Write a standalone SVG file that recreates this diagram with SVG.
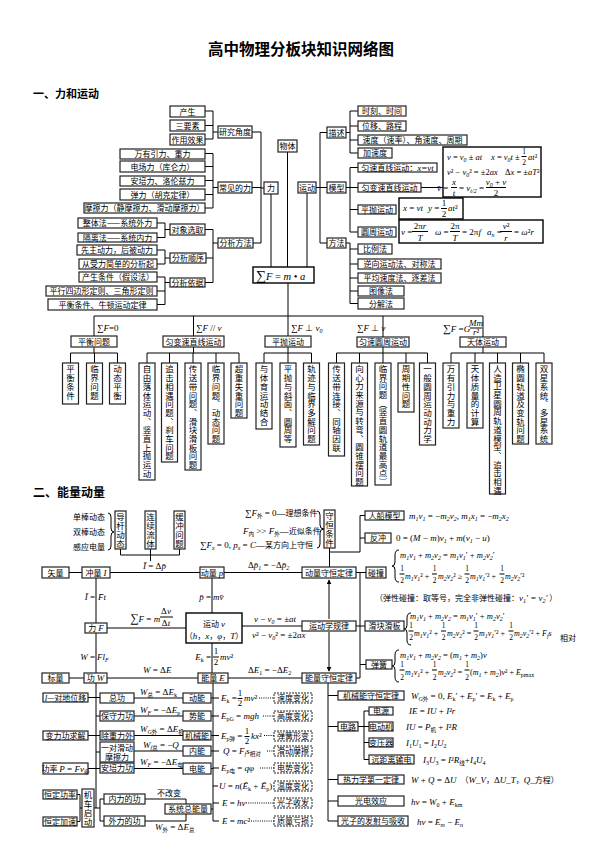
<svg xmlns="http://www.w3.org/2000/svg" width="599" height="860" viewBox="0 0 599 860">
<style>
.bg{fill:#fff}
.b{fill:#fff;stroke:#222;stroke-width:1.2}
.bd{fill:#fff;stroke:#222;stroke-width:1;stroke-dasharray:2 1}
.fb{fill:#fff;stroke:#000;stroke-width:1.4}
.ln{fill:none;stroke:#000;stroke-width:1}
.dt{fill:none;stroke:#000;stroke-width:1;stroke-dasharray:1 1.2}
.t{font-family:"Noto Sans CJK SC",sans-serif;font-size:8px;fill:#000;text-anchor:middle}
.c{font-family:"Noto Sans CJK SC",sans-serif;font-size:8px;font-style:normal;fill:#000}
.v{font-family:"Noto Sans CJK SC",sans-serif;font-size:8.5px;writing-mode:vertical-rl;letter-spacing:0.2px;fill:#000}
.m{font-family:"Liberation Serif",serif;font-size:9px;font-style:italic;fill:#000}
.e{font-size:8px}
.e1{font-size:8.5px}
.q{font-size:7.5px}
.r{font-style:normal}
.s{font-size:6px;baseline-shift:-2px}
.z{font-family:"Noto Sans CJK SC",sans-serif;font-style:normal;font-size:5.5px;baseline-shift:-2px}
.fn{text-anchor:middle}
.h{font-family:"Noto Sans CJK SC",sans-serif;font-weight:bold;fill:#000}
</style>
<defs>
<marker id="ah" viewBox="0 0 8 8" refX="7" refY="4" markerWidth="5" markerHeight="5" orient="auto-start-reverse"><path d="M0,0L8,4L0,8z" fill="#000"/></marker>
</defs>
<rect class="bg" x="0" y="0" width="599" height="860"/>
<text class="h" x="301" y="55" font-size="15.5" text-anchor="middle">高中物理分板块知识网络图</text>
<text class="h" x="33" y="98" font-size="11">一、力和运动</text>
<text class="h" x="33" y="497" font-size="12">二、能量动量</text>

<g id="connectors">
<path class="ln" d="M205,111H213M205,125.5H213M205,139H213M213,111V139M213,132H218M252,132H261M252,187.5H261M253,243H261M261,132V243M261,188H264M205,153.5H213M205,166.5H213M205,180.5H213M205,194.5H213M205,208H213M213,153.5V208M213,187.5H218M205,229.5H213M206,258H213M205,282.5H213M213,229.5V282.5M213,243H218M157,223H165M157,237.5H165M165,223V237.5M165,229.5H170M157,250H165M157,264H165M165,250V264M165,258H170M157,277H165M157,291H165M157,304.5H165M165,277V304.5M165,282.5H170M271,194V267M287.5,152V267M307,193V267M316,187.5H320M320,132.5V243M320,132.5H327M320,187.5H327M320,243H327M346,132.5H350M350,111V153M350,111H358M350,126H358M350,140H358M350,153H358M346,187.5H350M350,167.5V232M350,167.5H358M350,187.5H358M350,209.5H358M350,232H358M346,243H350M350,243V303.5M350,249H358M350,264H358M350,278H358M350,291H358M350,303.5H358M421,187.5H443"/>
<path class="ln" d="M288,283V316M94,316H483M94,316V336M193.5,316V336M288,316V336M383,316V337M483,316V337M94,347V353M70.5,353H117.5M70.5,353V363M94.5,353V363M117.5,353V363M193.5,347V353M147,353H239M147,353V363M169.5,353V363M193,353V363M216,353V363M239,353V363M288,347V353M264,353H311.5M264,353V363M288,353V363M311.5,353V363M383,347V353M336.5,353H427.5M336.5,353V363M359.5,353V363M383,353V363M406,353V363M427.5,353V363M483,347V353M451,353H544M451,353V363M475,353V363M497.5,353V363M520.5,353V363M544,353V363"/>
<path class="ln" d="M120.5,549V555M150.5,549V555M179.5,549V555M120.5,555H179.5M150.5,555V561M69,572.5H82M110,572.5H200M224,572.5H302M96,578V623M212,578V613M107,628H186M242,626H302M96,633V673M212,643V673M69,678H84M107,678H198M228,678H302M329.5,548V567M329.5,552H360M360,515.5V552M360,515.5H365M360,538H365M356,572.5H366M360,572.5V678M356,678H360M360,664.5H366M356,626H365"/>
<path class="ln" d="M329,580V619M329,632V671" marker-start="url(#ah)" marker-end="url(#ah)"/>
<path class="ln" d="M108,513Q111,513 111,517L111,528Q111,532 114,532Q111,532 111,536L111,546Q111,550 108,550M317,511Q320,511 320,515L320,525Q320,529 324,529Q320,529 320,533L320,544Q320,548 317,548M399,550Q395,550 395,555L395,562Q395,566 392,566Q395,566 395,570L395,577Q395,582 399,582M411,613Q407,613 407,618L407,625Q407,629 404,629Q407,629 407,633L407,640Q407,645 411,645M399,650Q395,650 395,655L395,662Q395,666 392,666Q395,666 395,670L395,677Q395,682 399,682"/>
<path class="ln" d="M96,683V808M88,697.5H100M96,716H100M88,735.5H100M96,752H100M88,768.5H100M134,698H183M134,716H183M134,735.5H183M134,751H183M134,768.5H183M211,698H213M211,716H213M211,735.5H213M211,751H213M211,768.5H213M211,809H213M213,683V821M213,698H219M213,716H219M213,735.5H219M213,751H219M213,768H219M213,786H218M213,803H219M213,821H219M77,794.5H80M77,821.5H80M80,794.5V821.5M80,808H82M94,808H100M100,799V821M100,799H104M100,821H104M145,799H186V804M145,821H186V814M328,683V821M328,695.5H338M328,726.5H338M328,779.5H338M328,801H338M328,821H338M358,726.5H364M364,711V759.5M364,711H369M364,726.5H369M364,742.5H369M364,759.5H369"/>
<path class="dt" d="M259,698H274M263,716H274M264,735.5H274M267,751H274M260,768H274M246,803H274M251,821H274"/>
</g>

<g id="n-chansheng"><rect class="b" x="170" y="106" width="35" height="11"/><text class="t" x="187.5" y="114.5">产生</text></g>
<g id="n-sanyaosu"><rect class="b" x="170" y="120" width="35" height="11"/><text class="t" x="187.5" y="128.5">三要素</text></g>
<g id="n-zuoyong"><rect class="b" x="170" y="134" width="35" height="11"/><text class="t" x="187.5" y="142.5">作用效果</text></g>
<g id="n-yanjiu"><rect class="b" x="218" y="126" width="34" height="12"/><text class="t" x="235" y="135">研究角度</text></g>
<g id="n-wanyou"><rect class="b" x="120" y="149" width="85" height="10"/><text class="t" x="162.5" y="157">万有引力、重力</text></g>
<g id="n-dianchang"><rect class="b" x="120" y="161" width="85" height="11"/><text class="t" x="162.5" y="169.5">电场力（库仑力）</text></g>
<g id="n-anpei"><rect class="b" x="120" y="176" width="85" height="10"/><text class="t" x="162.5" y="184">安培力、洛伦兹力</text></g>
<g id="n-tanli"><rect class="b" x="120" y="189" width="85" height="11"/><text class="t" x="162.5" y="197.5">弹力（胡克定律）</text></g>
<g id="n-moca"><rect class="b" x="84" y="203" width="121" height="10"/><text class="t" x="144.5" y="211">摩擦力（静摩擦力、滑动摩擦力）</text></g>
<g id="n-changjian"><rect class="b" x="218" y="182" width="34" height="11"/><text class="t" x="235" y="190.5">常见的力</text></g>
<g id="n-li"><rect class="b" x="264" y="182" width="14" height="12"/><text class="t" x="271" y="191">力</text></g>
<g id="n-wuti"><rect class="b" x="278" y="140" width="19" height="12"/><text class="t" x="287.5" y="149">物体</text></g>
<g id="n-yundong"><rect class="b" x="298" y="182" width="18" height="11"/><text class="t" x="307" y="190.5">运动</text></g>
<g id="n-miaoshu"><rect class="b" x="327" y="127" width="19" height="11"/><text class="t" x="336.5" y="135.5">描述</text></g>
<g id="n-moxing"><rect class="b" x="327" y="182" width="19" height="11"/><text class="t" x="336.5" y="190.5">模型</text></g>
<g id="n-fangfa"><rect class="b" x="327" y="238" width="19" height="10"/><text class="t" x="336.5" y="246">方法</text></g>
<g id="n-shike"><rect class="b" x="358" y="106" width="48" height="10"/><text class="t" x="382" y="114">时刻、时间</text></g>
<g id="n-weiyi"><rect class="b" x="358" y="121" width="48" height="10"/><text class="t" x="382" y="129">位移、路程</text></g>
<g id="n-sudu"><rect class="b" x="358" y="135" width="109" height="10"/><text class="t" x="412.5" y="143">速度（速率）、角速度、周期</text></g>
<g id="n-jiasudu"><rect class="b" x="358" y="148" width="34" height="10"/><text class="t" x="375" y="156">加速度</text></g>
<g id="n-yunsu"><rect class="b" x="358" y="163" width="79" height="9"/><text class="t" x="397.5" y="170.5">匀速直线运动：<tspan class="m" font-size="8.5">x=vt</tspan></text></g>
<g id="n-yunbian"><rect class="b" x="358" y="183" width="63" height="9"/><text class="t" x="389.5" y="190.5">匀变速直线运动</text></g>
<g id="n-pingpao1"><rect class="b" x="358" y="205" width="38" height="9"/><text class="t" x="377" y="212.5">平抛运动</text></g>
<g id="n-yuanzhou1"><rect class="b" x="358" y="227" width="38" height="10"/><text class="t" x="377" y="235">圆周运动</text></g>
<g id="n-bili"><rect class="b" x="358" y="244" width="34" height="10"/><text class="t" x="375" y="252">比例法</text></g>
<g id="n-nixiang"><rect class="b" x="358" y="259" width="83" height="10"/><text class="t" x="399.5" y="267">逆向运动法、对称法</text></g>
<g id="n-pingjun"><rect class="b" x="358" y="273" width="83" height="10"/><text class="t" x="399.5" y="281">平均速度法、逐差法</text></g>
<g id="n-tuxiang"><rect class="b" x="358" y="286" width="46" height="10"/><text class="t" x="381" y="294">图像法</text></g>
<g id="n-fenjie"><rect class="b" x="358" y="298" width="46" height="11"/><text class="t" x="381" y="306.5">分解法</text></g>
<g id="n-duixiang"><rect class="b" x="170" y="224" width="35" height="11"/><text class="t" x="187.5" y="232.5">对象选取</text></g>
<g id="n-zhengti"><rect class="b" x="78" y="218" width="79" height="10"/><text class="t" x="117.5" y="226">整体法——系统外力</text></g>
<g id="n-geli"><rect class="b" x="78" y="233" width="79" height="9"/><text class="t" x="117.5" y="240.5">隔离法——系统内力</text></g>
<g id="n-fenxi"><rect class="b" x="218" y="238" width="35" height="10"/><text class="t" x="235.5" y="246">分析方法</text></g>
<g id="n-shunxu"><rect class="b" x="170" y="253" width="36" height="10"/><text class="t" x="188" y="261">分析顺序</text></g>
<g id="n-xianzhu"><rect class="b" x="77" y="245" width="80" height="10"/><text class="t" x="117" y="253">先主动力，后被动力</text></g>
<g id="n-congshou"><rect class="b" x="79" y="259" width="78" height="10"/><text class="t" x="118" y="267">从受力简单的分析起</text></g>
<g id="n-yiju"><rect class="b" x="170" y="278" width="35" height="9"/><text class="t" x="187.5" y="285.5">分析依据</text></g>
<g id="n-chanshengtj"><rect class="b" x="79" y="272" width="78" height="10"/><text class="t" x="118" y="280">产生条件（假设法）</text></g>
<g id="n-pingxing"><rect class="b" x="46" y="286" width="111" height="10"/><text class="t" x="101.5" y="294">平行四边形定则、三角形定则</text></g>
<g id="n-pingheng-tj"><rect class="b" x="48" y="299" width="109" height="11"/><text class="t" x="102.5" y="307.5">平衡条件、牛顿运动定律</text></g>

<g id="n-f1"><rect class="fb" x="443" y="147" width="98" height="50"/>
<text class="m e1" x="447" y="160">v<tspan class="r"> = </tspan>v<tspan class="s">0</tspan><tspan class="r"> ± </tspan>at</text>
<text class="m e1" x="491" y="160">x<tspan class="r"> = </tspan>v<tspan class="s">0</tspan>t<tspan class="r"> ± </tspan></text>
<text class="m r fn q" x="524" y="154">1</text><path class="ln" d="M521.5,156.5H526.5"/><text class="m r fn q" x="524" y="165">2</text>
<text class="m e1" x="528" y="160">at<tspan class="r">²</tspan></text>
<text class="m e1" x="447" y="175">v<tspan class="r">² − </tspan>v<tspan class="s">0</tspan><tspan class="r">² = ±2</tspan>ax</text>
<text class="m e1" x="505" y="175"><tspan class="r">Δ</tspan>x<tspan class="r"> = ±</tspan>aT<tspan class="r">²</tspan></text>
<text class="m" x="437" y="191">v̄<tspan class="r"> =</tspan></text>
<text class="m fn" x="454" y="185">x</text><path class="ln" d="M451,187.5H457"/><text class="m fn" x="454" y="196">t</text>
<text class="m" x="459" y="191"><tspan class="r">= </tspan>v<tspan class="s">t/2</tspan><tspan class="r"> =</tspan></text>
<text class="m fn" x="496" y="185">v<tspan class="s">0</tspan><tspan class="r"> + </tspan>v</text><path class="ln" d="M486,187.5H506"/><text class="m r fn" x="496" y="196">2</text>
</g>
<g id="n-f2"><rect class="fb" x="399" y="198" width="64" height="21"/>
<text class="m" x="403" y="211">x<tspan class="r"> = </tspan>vt</text>
<text class="m" x="428" y="211">y<tspan class="r"> =</tspan></text>
<text class="m r fn" x="444" y="206">1</text><path class="ln" d="M441,208.5H447"/><text class="m r fn" x="444" y="217">2</text>
<text class="m" x="448" y="211">at<tspan class="r">²</tspan></text>
</g>
<g id="n-f3"><rect class="fb" x="399" y="220" width="144" height="23"/>
<text class="m" x="401" y="235">v<tspan class="r"> =</tspan></text>
<text class="m fn" x="420" y="229"><tspan class="r">2π</tspan>r</text><path class="ln" d="M412,231.5H428"/><text class="m fn" x="420" y="241">T</text>
<text class="m" x="435" y="235">ω<tspan class="r"> =</tspan></text>
<text class="m r fn" x="455" y="229">2π</text><path class="ln" d="M450,231.5H460"/><text class="m fn" x="455" y="241">T</text>
<text class="m" x="462" y="235"><tspan class="r">= 2π</tspan>f</text>
<text class="m" x="487" y="235">a<tspan class="s">n</tspan><tspan class="r"> =</tspan></text>
<text class="m fn" x="506" y="229">v<tspan class="r">²</tspan></text><path class="ln" d="M500,231.5H512"/><text class="m fn" x="506" y="241">r</text>
<text class="m" x="514" y="235"><tspan class="r">= </tspan>ω<tspan class="r">²</tspan>r</text>
</g>

<g id="n-sumF"><rect class="fb" x="253" y="267" width="61" height="16"/>
<text class="m" x="256" y="280"><tspan class="r" font-size="14">∑</tspan><tspan font-size="10.5">F</tspan><tspan class="r" font-size="10.5"> = </tspan><tspan font-size="10.5">m</tspan><tspan class="r" font-size="10.5"> • </tspan><tspan font-size="10.5">a</tspan></text>
</g>

<g id="lbl-cond">
<text class="m" x="97" y="331"><tspan class="r">∑</tspan>F<tspan class="r">=0</tspan></text>
<text class="m" x="196" y="331"><tspan class="r">∑</tspan>F<tspan class="r"> // </tspan>v</text>
<text class="m" x="291" y="331"><tspan class="r">∑</tspan>F<tspan class="r"> ⊥ </tspan>v<tspan class="s">0</tspan></text>
<text class="m" x="357" y="331"><tspan class="r">∑</tspan>F<tspan class="r"> ⊥ </tspan>v</text>
<text class="m" x="443" y="332"><tspan class="r" font-size="11">∑</tspan>F<tspan class="r"> =</tspan>G</text>
<text class="m fn" x="476" y="326" font-size="7">Mm</text><path class="ln" d="M470,328H482"/><text class="m fn" x="476" y="335" font-size="7">r<tspan class="r">²</tspan></text>
</g>

<g id="n-pinghengwt"><rect class="b" x="71" y="336" width="46" height="11"/><text class="t" x="94" y="344.5">平衡问题</text></g>
<g id="n-yunbian2"><rect class="b" x="163" y="336" width="61" height="11"/><text class="t" x="193.5" y="344.5">匀变速直线运动</text></g>
<g id="n-pingpao2"><rect class="b" x="265" y="336" width="46" height="11"/><text class="t" x="288" y="344.5">平抛运动</text></g>
<g id="n-yuanzhou2"><rect class="b" x="357" y="337" width="52" height="10"/><text class="t" x="383" y="345">匀速圆周运动</text></g>
<g id="n-tianti"><rect class="b" x="460" y="337" width="46" height="10"/><text class="t" x="483" y="345">天体运动</text></g>

<g id="n-v1"><rect class="b" x="62.5" y="363" width="16" height="41"/><text class="v" x="70.5" y="365">平衡条件</text></g>
<g id="n-v2"><rect class="b" x="86.5" y="363" width="16" height="41"/><text class="v" x="94.5" y="365">临界问题</text></g>
<g id="n-v3"><rect class="b" x="109.5" y="363" width="16" height="41"/><text class="v" x="117.5" y="365">动态平衡</text></g>
<g id="n-v4"><rect class="b" x="139" y="363" width="16" height="117"/><text class="v" x="147" y="365">自由落体运动、竖直上抛运动</text></g>
<g id="n-v5"><rect class="b" x="161.5" y="363" width="16" height="99"/><text class="v" x="169.5" y="365">追击相遇问题、刹车问题</text></g>
<g id="n-v6"><rect class="b" x="185" y="363" width="16" height="107"/><text class="v" x="193" y="365">传送带问题、滑块滑板问题</text></g>
<g id="n-v7"><rect class="b" x="208" y="363" width="16" height="81"/><text class="v" x="216" y="365">临界问题、动态问题</text></g>
<g id="n-v8"><rect class="b" x="231" y="363" width="16" height="55"/><text class="v" x="239" y="365">超重失重问题</text></g>
<g id="n-v9"><rect class="b" x="256" y="363" width="16" height="66"/><text class="v" x="264" y="365">与体育运动结合</text></g>
<g id="n-v10"><rect class="b" x="280" y="363" width="16" height="84"/><text class="v" x="288" y="365">平抛与斜面、圆周等</text></g>
<g id="n-v11"><rect class="b" x="303.5" y="363" width="16" height="82"/><text class="v" x="311.5" y="365">轨迹与临界多解问题</text></g>
<g id="n-v12"><rect class="b" x="328.5" y="363" width="16" height="93"/><text class="v" x="336.5" y="365">传送带连接、同轴因联</text></g>
<g id="n-v13"><rect class="b" x="351.5" y="363" width="16" height="123"/><text class="v" x="359.5" y="364.5">向心力来源与转弯、圆锥摆问题</text></g>
<g id="n-v14"><rect class="b" x="375" y="363" width="16" height="122"/><text class="v" x="383" y="364.5">临界问题（竖直圆轨道最高点）</text></g>
<g id="n-v15"><rect class="b" x="398" y="363" width="16" height="49"/><text class="v" x="406" y="365">周期性问题</text></g>
<g id="n-v16"><rect class="b" x="419.5" y="363" width="16" height="82"/><text class="v" x="427.5" y="365">一般圆周运动动力学</text></g>
<g id="n-v17"><rect class="b" x="443" y="363" width="16" height="65"/><text class="v" x="451" y="365">万有引力与重力</text></g>
<g id="n-v18"><rect class="b" x="467" y="363" width="16" height="65"/><text class="v" x="475" y="365">天体质量的计算</text></g>
<g id="n-v19"><rect class="b" x="489.5" y="363" width="16" height="131"/><text class="v" x="497.5" y="364.5">人造卫星圆周轨道模型、追击相遇</text></g>
<g id="n-v20"><rect class="b" x="512.5" y="363" width="16" height="81"/><text class="v" x="520.5" y="365">椭圆轨道及变轨问题</text></g>
<g id="n-v21"><rect class="b" x="536" y="363" width="16" height="81"/><text class="v" x="544" y="365">双星系统、多星系统</text></g>

<g id="lbl-bang">
<text class="c" x="73" y="520">单棒动态</text>
<text class="c" x="73" y="535">双棒动态</text>
<text class="c" x="73" y="550">感应电量</text>
</g>
<g id="n-daogan"><rect class="b" x="115" y="511" width="11" height="38"/><text class="v" x="120.5" y="513" font-size="8.3">导杆动态</text></g>
<g id="n-lianxu"><rect class="b" x="145" y="511" width="11" height="38"/><text class="v" x="150.5" y="513" font-size="8.3">连续流体</text></g>
<g id="n-huanchong"><rect class="b" x="174" y="511" width="11" height="38"/><text class="v" x="179.5" y="513" font-size="8.3">缓冲问题</text></g>

<g id="lbl-shouheng">
<text class="m" x="245" y="516"><tspan class="r">∑</tspan>F<tspan class="z">外</tspan><tspan class="r"> = 0—</tspan><tspan class="c">理想条件</tspan></text>
<text class="m" x="243" y="534">F<tspan class="z">内</tspan><tspan class="r"> &gt;&gt; </tspan>F<tspan class="z">外</tspan><tspan class="r">—</tspan><tspan class="c">近似条件</tspan></text>
<text class="m" x="200" y="548"><tspan class="r">∑</tspan>F<tspan class="s">x</tspan><tspan class="r"> = 0,  </tspan>p<tspan class="s">x</tspan><tspan class="r"> = </tspan>C<tspan class="r">—</tspan><tspan class="c">某方向上守恒</tspan></text>
</g>
<g id="n-shouhengtj"><rect class="b" x="324" y="510" width="11" height="38"/><text class="v" x="329.5" y="512" font-size="8.3">守恒条件</text></g>
<g id="n-renchuan"><rect class="b" x="365" y="511" width="39" height="9"/><text class="t" x="384.5" y="518.5">人船模型</text>
<text class="m" x="409" y="519">m<tspan class="s">1</tspan>v<tspan class="s">1</tspan><tspan class="r"> = −</tspan>m<tspan class="s">2</tspan>v<tspan class="s">2</tspan><tspan class="r">,  </tspan>m<tspan class="s">1</tspan>x<tspan class="s">1</tspan><tspan class="r"> = −</tspan>m<tspan class="s">2</tspan>x<tspan class="s">2</tspan></text></g>
<g id="n-fanchong"><rect class="b" x="365" y="533" width="26" height="10"/><text class="t" x="378" y="541">反冲</text>
<text class="m" x="396" y="541"><tspan class="r">0 = (</tspan>M<tspan class="r"> − </tspan>m<tspan class="r">)</tspan>v<tspan class="s">1</tspan><tspan class="r"> + </tspan>m<tspan class="r">(</tspan>v<tspan class="s">1</tspan><tspan class="r"> − </tspan>u<tspan class="r">)</tspan></text></g>

<g id="n-shiliang"><rect class="b" x="42" y="567" width="27" height="11"/><text class="t" x="55.5" y="575.5">矢量</text></g>
<g id="n-chongliang"><rect class="b" x="82" y="567" width="28" height="11"/><text class="t" x="96" y="575.5">冲量 <tspan class="m">I</tspan></text></g>
<g id="n-dongliang"><rect class="b" x="200" y="567" width="24" height="11"/><text class="t" x="212" y="575.5">动量 <tspan class="m">p</tspan></text></g>
<g id="n-dlsh"><rect class="b" x="302" y="567" width="54" height="11"/><text class="t" x="329" y="575.5">动量守恒定律</text></g>
<g id="n-pengzhuang"><rect class="b" x="366" y="567" width="20" height="11"/><text class="t" x="376" y="575.5">碰撞</text>
<text class="m e1" x="400" y="558">m<tspan class="s">1</tspan>v<tspan class="s">1</tspan><tspan class="r"> + </tspan>m<tspan class="s">2</tspan>v<tspan class="s">2</tspan><tspan class="r"> = </tspan>m<tspan class="s">1</tspan>v<tspan class="s">1</tspan><tspan class="r">′ + </tspan>m<tspan class="s">2</tspan>v<tspan class="s">2</tspan><tspan class="r">′</tspan></text>
<text class="m r fn q" x="402" y="571">1</text><path class="ln" d="M399.5,574H404.5"/><text class="m r fn q" x="402" y="583">2</text>
<text class="m e" x="405" y="579">m<tspan class="s">1</tspan>v<tspan class="s">1</tspan><tspan class="r">² +</tspan></text>
<text class="m r fn q" x="434.5" y="571">1</text><path class="ln" d="M432,574H437"/><text class="m r fn q" x="434.5" y="583">2</text>
<text class="m e" x="438" y="579">m<tspan class="s">2</tspan>v<tspan class="s">2</tspan><tspan class="r">² ≥</tspan></text>
<text class="m r fn q" x="467" y="571">1</text><path class="ln" d="M464.5,574H469.5"/><text class="m r fn q" x="467" y="583">2</text>
<text class="m e" x="470" y="579">m<tspan class="s">1</tspan>v<tspan class="s">1</tspan><tspan class="r">′² +</tspan></text>
<text class="m r fn q" x="502" y="571">1</text><path class="ln" d="M499.5,574H504.5"/><text class="m r fn q" x="502" y="583">2</text>
<text class="m e" x="505" y="579">m<tspan class="s">2</tspan>v<tspan class="s">2</tspan><tspan class="r">′²</tspan></text>
<text class="c" x="375" y="601">（弹性碰撞：取等号，完全非弹性碰撞：<tspan class="m">v</tspan><tspan class="m s">1</tspan><tspan class="m">′ = v</tspan><tspan class="m s">2</tspan><tspan class="m">′</tspan> ）</text>
</g>

<g id="lbl-left2">
<text class="m" x="143" y="569">Ī<tspan class="r"> = Δ</tspan>p̄</text>
<text class="m" x="248" y="568"><tspan class="r">Δ</tspan>p̄<tspan class="s">1</tspan><tspan class="r"> = −Δ</tspan>p̄<tspan class="s">2</tspan></text>
<text class="m" x="95" y="600" text-anchor="end">Ī<tspan class="r"> =</tspan></text><text class="m" x="98" y="600">F̄t</text>
<text class="m" x="211" y="600" text-anchor="end">p̄<tspan class="r"> =</tspan></text><text class="m" x="213" y="600">mv̄</text>
<text class="m" x="130" y="622"><tspan class="r" font-size="12">∑</tspan>F<tspan class="r"> = </tspan>m</text>
<text class="m fn" x="166" y="614"><tspan class="r">Δ</tspan>v</text><path class="ln" d="M160,617H173"/><text class="m fn" x="166" y="626"><tspan class="r">Δ</tspan>t</text>
<text class="m" x="254" y="622">v<tspan class="r"> − </tspan>v<tspan class="s">0</tspan><tspan class="r"> = ±</tspan>at</text>
<text class="m" x="252" y="638">v<tspan class="r">² − </tspan>v<tspan class="s">0</tspan><tspan class="r">² = ±2</tspan>ax</text>
<text class="m" x="95" y="660" text-anchor="end">W<tspan class="r"> =</tspan></text><text class="m" x="97" y="660">Fl<tspan class="s">F</tspan></text>
<text class="m" x="211" y="660" text-anchor="end">E<tspan class="s r">k</tspan><tspan class="r"> =</tspan></text>
<text class="m r fn" x="216" y="654">1</text><path class="ln" d="M213,657H219"/><text class="m r fn" x="216" y="665">2</text>
<text class="m" x="220" y="660">mv<tspan class="r">²</tspan></text>
<text class="m" x="143" y="673">W<tspan class="r"> = Δ</tspan>E</text>
<text class="m" x="248" y="673"><tspan class="r">Δ</tspan>E<tspan class="s r">1</tspan><tspan class="r"> = −Δ</tspan>E<tspan class="s r">2</tspan></text>
</g>

<g id="n-li2"><rect class="b" x="85" y="623" width="22" height="10"/><text class="t" x="96" y="631">力 <tspan class="m">F</tspan></text></g>
<g id="n-yundongv"><rect class="fb" x="186" y="613" width="56" height="30"/><text class="t" x="214" y="627" font-size="12">运动 <tspan class="m" font-size="12">v</tspan></text><text class="t" x="214" y="639" font-size="7.5">（<tspan class="m" font-size="8">h</tspan>，<tspan class="m" font-size="8">x</tspan>，<tspan class="m" font-size="8">φ</tspan>，<tspan class="m" font-size="8">T</tspan>）</text></g>
<g id="n-yundongxue"><rect class="b" x="302" y="621" width="54" height="10"/><text class="t" x="329" y="629">运动学规律</text></g>
<g id="n-huakuai"><rect class="b" x="365" y="621" width="39" height="10"/><text class="t" x="384.5" y="629">滑块滑板</text>
<text class="m e1" x="410" y="619">m<tspan class="s">1</tspan>v<tspan class="s">1</tspan><tspan class="r"> + </tspan>m<tspan class="s">2</tspan>v<tspan class="s">2</tspan><tspan class="r"> = </tspan>m<tspan class="s">1</tspan>v<tspan class="s">1</tspan><tspan class="r">′ + </tspan>m<tspan class="s">2</tspan>v<tspan class="s">2</tspan><tspan class="r">′</tspan></text>
<text class="m r fn q" x="411" y="628">1</text><path class="ln" d="M408.5,631H413.5"/><text class="m r fn q" x="411" y="640">2</text>
<text class="m e" x="414" y="636">m<tspan class="s">1</tspan>v<tspan class="s">1</tspan><tspan class="r">² +</tspan></text>
<text class="m r fn q" x="443.5" y="628">1</text><path class="ln" d="M441,631H446"/><text class="m r fn q" x="443.5" y="640">2</text>
<text class="m e" x="447" y="636">m<tspan class="s">2</tspan>v<tspan class="s">2</tspan><tspan class="r">² =</tspan></text>
<text class="m r fn q" x="476" y="628">1</text><path class="ln" d="M473.5,631H478.5"/><text class="m r fn q" x="476" y="640">2</text>
<text class="m e" x="479" y="636">m<tspan class="s">1</tspan>v<tspan class="s">1</tspan><tspan class="r">′² +</tspan></text>
<text class="m r fn q" x="511" y="628">1</text><path class="ln" d="M508.5,631H513.5"/><text class="m r fn q" x="511" y="640">2</text>
<text class="m e" x="514" y="636">m<tspan class="s">2</tspan>v<tspan class="s">2</tspan><tspan class="r">′² + </tspan>F<tspan class="s">f</tspan>s</text>
<text class="c" x="560" y="641" font-size="5.5">相对</text>
</g>
<g id="n-tanhuang"><rect class="b" x="366" y="660" width="26" height="9"/><text class="t" x="379" y="667.5">弹簧</text>
<text class="m e1" x="400" y="658">m<tspan class="s">1</tspan>v<tspan class="s">1</tspan><tspan class="r"> + </tspan>m<tspan class="s">2</tspan>v<tspan class="s">2</tspan><tspan class="r"> = (</tspan>m<tspan class="s">1</tspan><tspan class="r"> + </tspan>m<tspan class="s">2</tspan><tspan class="r">)</tspan>v</text>
<text class="m r fn q" x="402" y="667">1</text><path class="ln" d="M399.5,670H404.5"/><text class="m r fn q" x="402" y="680">2</text>
<text class="m e" x="405" y="675">m<tspan class="s">1</tspan>v<tspan class="s">1</tspan><tspan class="r">² +</tspan></text>
<text class="m r fn q" x="434.5" y="667">1</text><path class="ln" d="M432,670H437"/><text class="m r fn q" x="434.5" y="680">2</text>
<text class="m e" x="438" y="675">m<tspan class="s">2</tspan>v<tspan class="s">2</tspan><tspan class="r">² =</tspan></text>
<text class="m r fn q" x="467" y="667">1</text><path class="ln" d="M464.5,670H469.5"/><text class="m r fn q" x="467" y="680">2</text>
<text class="m e" x="470" y="675"><tspan class="r">(</tspan>m<tspan class="s">1</tspan><tspan class="r"> + </tspan>m<tspan class="s">2</tspan><tspan class="r">)</tspan>v<tspan class="r">² + </tspan>E<tspan class="s r">pmax</tspan></text>
</g>

<g id="n-biaoliang"><rect class="b" x="42" y="673" width="27" height="10"/><text class="t" x="55.5" y="681">标量</text></g>
<g id="n-gong"><rect class="b" x="84" y="673" width="23" height="10"/><text class="t" x="95.5" y="681">功 <tspan class="m">W</tspan></text></g>
<g id="n-nengliang"><rect class="b" x="198" y="673" width="30" height="10"/><text class="t" x="213" y="681">能量 <tspan class="m">E</tspan></text></g>
<g id="n-nlsh"><rect class="b" x="302" y="673" width="54" height="10"/><text class="t" x="329" y="681">能量守恒定律</text></g>

<g id="n-duidi"><rect class="b" x="43" y="693" width="45" height="9"/><text class="t" x="65.5" y="700.5"><tspan class="m">l</tspan>—对地位移</text></g>
<g id="n-biangli"><rect class="b" x="43" y="731" width="45" height="9"/><text class="t" x="65.5" y="738.5">变力功求解</text></g>
<g id="n-gonglv"><rect class="b" x="43" y="763" width="45" height="11"/><text class="t" x="65.5" y="771.5">功率 <tspan class="m">P</tspan><tspan class="m r"> = </tspan><tspan class="m">Fv</tspan><tspan class="z">牵</tspan></text></g>
<g id="n-zonggong"><rect class="b" x="100" y="693" width="34" height="10"/><text class="t" x="117" y="701">总功</text></g>
<g id="n-baoshou"><rect class="b" x="100" y="711" width="34" height="10"/><text class="t" x="117" y="719">保守力功</text></g>
<g id="n-chuzhong"><rect class="b" x="100" y="731" width="34" height="9"/><text class="t" x="117" y="738.5">除重力外</text></g>
<g id="n-yidui"><rect class="b" x="100" y="742" width="34" height="20"/><text class="t" x="117" y="750.5">一对滑动</text><text class="t" x="117" y="760">摩擦力</text></g>
<g id="n-anpeigong"><rect class="b" x="100" y="763" width="34" height="10"/><text class="t" x="117" y="771">安培力功</text></g>
<g id="lbl-gong">
<text class="m" x="140" y="695">W<tspan class="z">总</tspan><tspan class="r"> = Δ</tspan>E<tspan class="s r">k</tspan></text>
<text class="m" x="140" y="713">W<tspan class="s">F</tspan><tspan class="r"> = −Δ</tspan>E<tspan class="s r">p</tspan></text>
<text class="m" x="140" y="732">W<tspan class="s">G</tspan><tspan class="z">外</tspan><tspan class="r"> = Δ</tspan>E<tspan class="z">机</tspan></text>
<text class="m" x="143" y="748">W<tspan class="s">f</tspan><tspan class="z">总</tspan><tspan class="r"> = −</tspan>Q</text>
<text class="m" x="140" y="765">W<tspan class="s">F</tspan><tspan class="r"> = −Δ</tspan>E<tspan class="z">电</tspan></text>
</g>
<g id="n-dongneng"><rect class="b" x="183" y="693" width="28" height="10"/><text class="t" x="197" y="701">动能</text></g>
<g id="n-shineng"><rect class="b" x="183" y="711" width="28" height="10"/><text class="t" x="197" y="719">势能</text></g>
<g id="n-jixieneng"><rect class="b" x="183" y="731" width="28" height="9"/><text class="t" x="197" y="738.5">机械能</text></g>
<g id="n-neineng"><rect class="b" x="183" y="746" width="28" height="10"/><text class="t" x="197" y="754">内能</text></g>
<g id="n-dianneng"><rect class="b" x="183" y="763" width="28" height="11"/><text class="t" x="197" y="771.5">电能</text></g>

<g id="lbl-neng">
<text class="m" x="221" y="701">E<tspan class="s r">k</tspan><tspan class="r"> =</tspan></text>
<text class="m r fn" x="240" y="696" font-size="7.5">1</text><path class="ln" d="M237.5,698.5H242.5"/><text class="m r fn" x="240" y="705.5" font-size="7.5">2</text>
<text class="m" x="244" y="701">mv<tspan class="r">²</tspan></text>
<text class="m" x="221" y="719">E<tspan class="s r">pG</tspan><tspan class="r"> = </tspan>mgh</text>
<text class="m" x="221" y="739">E<tspan class="s r">p</tspan><tspan class="z">弹</tspan><tspan class="r"> =</tspan></text>
<text class="m r fn" x="247" y="734" font-size="7.5">1</text><path class="ln" d="M244.5,736.5H249.5"/><text class="m r fn" x="247" y="743.5" font-size="7.5">2</text>
<text class="m" x="251" y="739">kx<tspan class="r">²</tspan></text>
<text class="m" x="223" y="754">Q<tspan class="r"> = </tspan>F<tspan class="s">f</tspan>s<tspan class="z">相对</tspan></text>
<text class="m" x="221" y="771">E<tspan class="s r">p</tspan><tspan class="z">电</tspan><tspan class="r"> = </tspan>qφ</text>
<text class="m" x="219" y="789">U<tspan class="r"> = </tspan>n<tspan class="r">(</tspan>Ē<tspan class="s r">k</tspan><tspan class="r"> + </tspan>Ē<tspan class="s r">p</tspan><tspan class="r">)</tspan></text>
<text class="m" x="222" y="806">E<tspan class="r"> = </tspan>hν</text>
<text class="m" x="222" y="824">E<tspan class="r"> = </tspan>mc<tspan class="r">²</tspan></text>
</g>
<g id="n-d1"><rect class="bd" x="274" y="693" width="38" height="10"/><text class="t" x="293" y="701">速度变化</text></g>
<g id="n-d2"><rect class="bd" x="274" y="711" width="38" height="10"/><text class="t" x="293" y="719">高度变化</text></g>
<g id="n-d3"><rect class="bd" x="274" y="731" width="38" height="10"/><text class="t" x="293" y="739">弹簧形变</text></g>
<g id="n-d4"><rect class="bd" x="274" y="746" width="38" height="10"/><text class="t" x="293" y="754">滑动摩擦</text></g>
<g id="n-d5"><rect class="bd" x="274" y="763" width="38" height="10"/><text class="t" x="293" y="771">电势变化</text></g>
<g id="n-d6"><rect class="bd" x="274" y="781" width="38" height="10"/><text class="t" x="293" y="789">温度变化</text></g>
<g id="n-d7"><rect class="bd" x="274" y="798" width="38" height="10"/><text class="t" x="293" y="806">光子收发</text></g>
<g id="n-d8"><rect class="bd" x="274" y="816" width="38" height="10"/><text class="t" x="293" y="824">质量亏损</text></g>

<g id="n-hengding1"><rect class="b" x="43" y="790" width="34" height="9"/><text class="t" x="60" y="797.5">恒定功率</text></g>
<g id="n-hengding2"><rect class="b" x="43" y="817" width="34" height="9"/><text class="t" x="60" y="824.5">恒定加速</text></g>
<g id="n-jiche"><rect class="b" x="82" y="789" width="12" height="38"/><text class="v" x="88" y="791" font-size="8.3">机车启动</text></g>
<g id="n-neili"><rect class="b" x="104" y="794" width="41" height="10"/><text class="t" x="124.5" y="802">内力的功</text></g>
<g id="n-waili"><rect class="b" x="104" y="816" width="41" height="10"/><text class="t" x="124.5" y="824">外力的功</text></g>
<g id="n-xitong"><rect class="b" x="165" y="804" width="46" height="10"/><text class="t" x="188" y="812">系统总能量</text></g>
<g id="lbl-xitong">
<text class="c" x="157" y="796" font-size="7">不改变</text>
<text class="m" x="155" y="830" font-size="7.5">W<tspan class="z">外</tspan><tspan class="r"> = Δ</tspan>E<tspan class="z">总</tspan></text>
</g>

<g id="n-jxnsh"><rect class="b" x="338" y="691" width="66" height="9"/><text class="t" x="371" y="698.5">机械能守恒定律</text>
<text class="m" x="411" y="699">W<tspan class="s">G</tspan><tspan class="z">外</tspan><tspan class="r"> = 0,  </tspan>E<tspan class="s r">k</tspan><tspan class="r">′ + </tspan>E<tspan class="s r">p</tspan><tspan class="r">′ = </tspan>E<tspan class="s r">k</tspan><tspan class="r"> + </tspan>E<tspan class="s r">p</tspan></text></g>
<g id="n-dianlu"><rect class="b" x="338" y="722" width="20" height="9"/><text class="t" x="348" y="729.5">电路</text></g>
<g id="n-dianyuan"><rect class="b" x="369" y="707" width="24" height="8"/><text class="t" x="381" y="714">电源</text>
<text class="m" x="409" y="714">IE<tspan class="r"> = </tspan>IU<tspan class="r"> + </tspan>I<tspan class="r">²</tspan>r</text></g>
<g id="n-diandongji"><rect class="b" x="369" y="722" width="24" height="9"/><text class="t" x="381" y="729.5">电动机</text>
<text class="m" x="406" y="730">IU<tspan class="r"> = </tspan>P<tspan class="z">机</tspan><tspan class="r"> + </tspan>I<tspan class="r">²</tspan>R</text></g>
<g id="n-bianyaqi"><rect class="b" x="369" y="738" width="24" height="9"/><text class="t" x="381" y="745.5">变压器</text>
<text class="m" x="406" y="746">I<tspan class="s r">1</tspan>U<tspan class="s r">1</tspan><tspan class="r"> = </tspan>I<tspan class="s r">2</tspan>U<tspan class="s r">2</tspan></text></g>
<g id="n-yuanjuli"><rect class="b" x="369" y="755" width="45" height="9"/><text class="t" x="391.5" y="762.5">远距离输电</text>
<text class="m" x="423" y="763">I<tspan class="s r">3</tspan>U<tspan class="s r">3</tspan><tspan class="r"> = </tspan>I<tspan class="r">²</tspan>R<tspan class="z">线</tspan><tspan class="r">+</tspan>I<tspan class="s r">4</tspan>U<tspan class="s r">4</tspan></text></g>
<g id="n-relixue"><rect class="b" x="338" y="775" width="66" height="9"/><text class="t" x="371" y="782.5">热力学第一定律</text>
<text class="m" x="411" y="783">W<tspan class="r"> + </tspan>Q<tspan class="r"> = Δ</tspan>U<tspan class="c">　（</tspan>W_V<tspan class="c">，</tspan><tspan class="r">Δ</tspan>U_T<tspan class="c">，</tspan>Q_<tspan class="c">方程）</tspan></text></g>
<g id="n-guangdian"><rect class="b" x="338" y="796" width="66" height="10"/><text class="t" x="371" y="804">光电效应</text>
<text class="m" x="411" y="805">hν<tspan class="r"> = </tspan>W<tspan class="s r">0</tspan><tspan class="r"> + </tspan>E<tspan class="s r">km</tspan></text></g>
<g id="n-guangzi"><rect class="b" x="338" y="816" width="70" height="10"/><text class="t" x="373" y="824">光子的发射与吸收</text>
<text class="m" x="417" y="825">hν<tspan class="r"> = </tspan>E<tspan class="s">m</tspan><tspan class="r"> − </tspan>E<tspan class="s">n</tspan></text></g>
</svg>
